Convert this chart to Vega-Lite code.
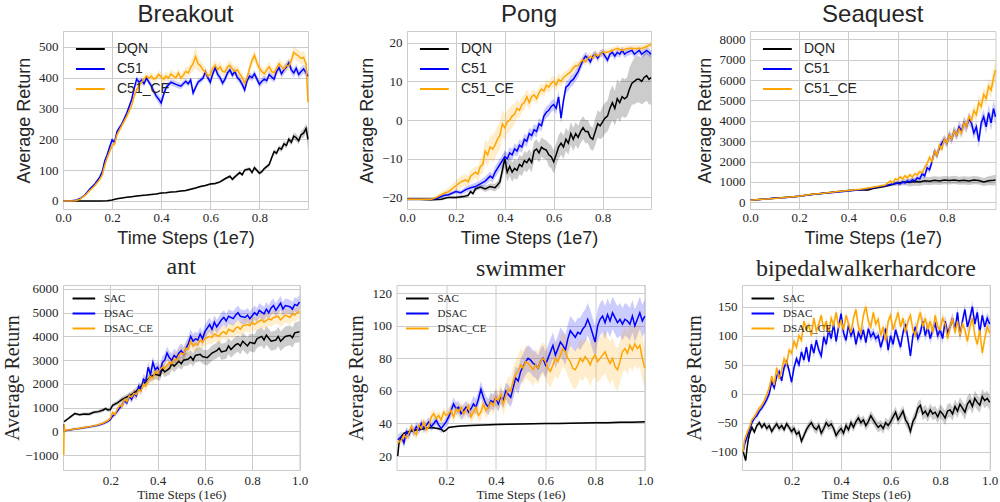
{
"$schema":"https://vega.github.io/schema/vega-lite/v6.json",
"background":"white",
"padding":{"left":1,"top":2,"right":0,"bottom":0},
"config":{
"view":{"stroke":"#cccccc","strokeWidth":1},
"axis":{"grid":true,"gridColor":"#cccccc","gridWidth":1,"domain":false,"ticks":false,"tickSize":0,"labelFont":"Liberation Serif","labelFontSize":13,"labelColor":"#262626","titleColor":"#262626","titleFont":"Liberation Serif","titleFontWeight":"normal","labelFlush":false,"labelOverlap":false},
"title":{"fontSize":24,"fontWeight":"normal","color":"#262626","offset":0},
"legend":{"orient":"top-left","padding":0,"symbolStrokeWidth":2,"labelColor":"#262626"}
},
"datasets":{
"brk":[
{"s":"a","x":0,"y":0,"e":0.5},{"s":"a","x":5,"y":0,"e":0.5},{"s":"a","x":10,"y":0,"e":0.5},{"s":"a","x":15,"y":0,"e":0.5},{"s":"a","x":18,"y":1,"e":1},{"s":"a","x":20,"y":3,"e":1},{"s":"a","x":22,"y":7,"e":1},{"s":"a","x":24,"y":10,"e":1},{"s":"a","x":26,"y":12,"e":1.5},{"s":"a","x":28,"y":14,"e":1.5},{"s":"a","x":30,"y":16,"e":2},{"s":"a","x":32,"y":18,"e":2},{"s":"a","x":34,"y":19,"e":2},{"s":"a","x":36,"y":21,"e":2},{"s":"a","x":38,"y":23,"e":2},{"s":"a","x":40,"y":26,"e":2},{"s":"a","x":42,"y":27,"e":2},{"s":"a","x":44,"y":29,"e":2},{"s":"a","x":46,"y":30,"e":2},{"s":"a","x":48,"y":32,"e":2},{"s":"a","x":50,"y":34,"e":3},{"s":"a","x":52,"y":38,"e":3},{"s":"a","x":54,"y":42,"e":3},{"s":"a","x":56,"y":47,"e":3},{"s":"a","x":58,"y":50,"e":3},{"s":"a","x":60,"y":55,"e":3},{"s":"a","x":62,"y":57,"e":4},{"s":"a","x":64,"y":62,"e":4},{"s":"a","x":66,"y":72,"e":4},{"s":"a","x":68,"y":80,"e":5},{"s":"a","x":69,"y":70,"e":5},{"s":"a","x":70,"y":78,"e":5},{"s":"a","x":72,"y":92,"e":5},{"s":"a","x":73,"y":85,"e":5},{"s":"a","x":74,"y":100,"e":5},{"s":"a","x":76,"y":104,"e":6},{"s":"a","x":77,"y":92,"e":6},{"s":"a","x":78,"y":108,"e":6},{"s":"a","x":80,"y":90,"e":6},{"s":"a","x":81,"y":95,"e":6},{"s":"a","x":82,"y":105,"e":6},{"s":"a","x":84,"y":118,"e":7},{"s":"a","x":85,"y":140,"e":8},{"s":"a","x":86,"y":160,"e":8},{"s":"a","x":87,"y":155,"e":8},{"s":"a","x":88,"y":172,"e":9},{"s":"a","x":89,"y":168,"e":9},{"s":"a","x":90,"y":185,"e":10},{"s":"a","x":91,"y":180,"e":10},{"s":"a","x":92,"y":200,"e":10},{"s":"a","x":93,"y":190,"e":10},{"s":"a","x":94,"y":210,"e":12},{"s":"a","x":95,"y":205,"e":12},{"s":"a","x":96,"y":195,"e":12},{"s":"a","x":97,"y":215,"e":12},{"s":"a","x":98,"y":220,"e":15},{"s":"a","x":99,"y":235,"e":15},{"s":"a","x":99.8,"y":200,"e":35},
{"s":"b","x":0,"y":0,"e":0},{"s":"b","x":3,"y":0,"e":0},{"s":"b","x":5,"y":2,"e":1},{"s":"b","x":7,"y":8,"e":2},{"s":"b","x":9,"y":20,"e":3},{"s":"b","x":11,"y":40,"e":4},{"s":"b","x":13,"y":55,"e":4},{"s":"b","x":15,"y":78,"e":5},{"s":"b","x":16,"y":95,"e":6},{"s":"b","x":17,"y":130,"e":6},{"s":"b","x":18,"y":150,"e":7},{"s":"b","x":19,"y":175,"e":7},{"s":"b","x":20,"y":198,"e":8},{"s":"b","x":21,"y":190,"e":8},{"s":"b","x":22,"y":225,"e":8},{"s":"b","x":24,"y":250,"e":8},{"s":"b","x":26,"y":285,"e":8},{"s":"b","x":28,"y":330,"e":9},{"s":"b","x":29,"y":365,"e":10},{"s":"b","x":30,"y":395,"e":10},{"s":"b","x":31,"y":385,"e":10},{"s":"b","x":32,"y":392,"e":10},{"s":"b","x":33,"y":380,"e":10},{"s":"b","x":34,"y":398,"e":10},{"s":"b","x":35,"y":385,"e":10},{"s":"b","x":36,"y":372,"e":12},{"s":"b","x":37,"y":355,"e":12},{"s":"b","x":38,"y":340,"e":12},{"s":"b","x":39,"y":330,"e":14},{"s":"b","x":40,"y":318,"e":15},{"s":"b","x":41,"y":345,"e":12},{"s":"b","x":42,"y":368,"e":10},{"s":"b","x":44,"y":385,"e":10},{"s":"b","x":46,"y":378,"e":10},{"s":"b","x":48,"y":372,"e":10},{"s":"b","x":50,"y":388,"e":10},{"s":"b","x":51,"y":380,"e":10},{"s":"b","x":52,"y":392,"e":10},{"s":"b","x":53,"y":350,"e":12},{"s":"b","x":54,"y":368,"e":12},{"s":"b","x":55,"y":385,"e":10},{"s":"b","x":57,"y":398,"e":10},{"s":"b","x":58,"y":418,"e":12},{"s":"b","x":59,"y":400,"e":12},{"s":"b","x":60,"y":385,"e":12},{"s":"b","x":61,"y":412,"e":12},{"s":"b","x":62,"y":432,"e":12},{"s":"b","x":63,"y":410,"e":12},{"s":"b","x":64,"y":400,"e":12},{"s":"b","x":65,"y":382,"e":12},{"s":"b","x":66,"y":395,"e":12},{"s":"b","x":67,"y":415,"e":12},{"s":"b","x":68,"y":425,"e":12},{"s":"b","x":69,"y":408,"e":12},{"s":"b","x":70,"y":420,"e":12},{"s":"b","x":71,"y":400,"e":12},{"s":"b","x":72,"y":392,"e":12},{"s":"b","x":73,"y":378,"e":12},{"s":"b","x":74,"y":360,"e":14},{"s":"b","x":75,"y":390,"e":12},{"s":"b","x":76,"y":405,"e":12},{"s":"b","x":77,"y":400,"e":12},{"s":"b","x":78,"y":412,"e":12},{"s":"b","x":79,"y":395,"e":12},{"s":"b","x":80,"y":378,"e":12},{"s":"b","x":81,"y":388,"e":12},{"s":"b","x":82,"y":395,"e":12},{"s":"b","x":83,"y":390,"e":12},{"s":"b","x":84,"y":410,"e":12},{"s":"b","x":85,"y":402,"e":12},{"s":"b","x":86,"y":395,"e":12},{"s":"b","x":87,"y":420,"e":14},{"s":"b","x":88,"y":432,"e":14},{"s":"b","x":89,"y":412,"e":14},{"s":"b","x":90,"y":425,"e":14},{"s":"b","x":91,"y":435,"e":14},{"s":"b","x":92,"y":448,"e":14},{"s":"b","x":93,"y":425,"e":14},{"s":"b","x":94,"y":415,"e":14},{"s":"b","x":95,"y":430,"e":14},{"s":"b","x":96,"y":410,"e":14},{"s":"b","x":97,"y":420,"e":14},{"s":"b","x":98,"y":428,"e":14},{"s":"b","x":99,"y":415,"e":14},{"s":"b","x":99.8,"y":405,"e":16},
{"s":"c","x":0,"y":0,"e":0},{"s":"c","x":3,"y":0,"e":0},{"s":"c","x":5,"y":1,"e":1},{"s":"c","x":7,"y":6,"e":2},{"s":"c","x":9,"y":18,"e":3},{"s":"c","x":11,"y":35,"e":4},{"s":"c","x":13,"y":50,"e":4},{"s":"c","x":15,"y":70,"e":5},{"s":"c","x":16,"y":85,"e":6},{"s":"c","x":17,"y":115,"e":6},{"s":"c","x":18,"y":140,"e":7},{"s":"c","x":19,"y":160,"e":7},{"s":"c","x":20,"y":180,"e":8},{"s":"c","x":21,"y":185,"e":8},{"s":"c","x":22,"y":215,"e":8},{"s":"c","x":24,"y":245,"e":8},{"s":"c","x":26,"y":275,"e":8},{"s":"c","x":28,"y":310,"e":9},{"s":"c","x":29,"y":340,"e":10},{"s":"c","x":30,"y":360,"e":10},{"s":"c","x":31,"y":375,"e":10},{"s":"c","x":32,"y":385,"e":12},{"s":"c","x":33,"y":395,"e":12},{"s":"c","x":34,"y":405,"e":12},{"s":"c","x":35,"y":398,"e":12},{"s":"c","x":36,"y":405,"e":12},{"s":"c","x":37,"y":395,"e":12},{"s":"c","x":38,"y":400,"e":12},{"s":"c","x":39,"y":410,"e":12},{"s":"c","x":40,"y":402,"e":14},{"s":"c","x":41,"y":395,"e":14},{"s":"c","x":42,"y":405,"e":14},{"s":"c","x":43,"y":398,"e":14},{"s":"c","x":44,"y":412,"e":14},{"s":"c","x":45,"y":405,"e":14},{"s":"c","x":46,"y":400,"e":14},{"s":"c","x":47,"y":415,"e":14},{"s":"c","x":48,"y":398,"e":14},{"s":"c","x":49,"y":408,"e":14},{"s":"c","x":50,"y":420,"e":16},{"s":"c","x":51,"y":415,"e":18},{"s":"c","x":52,"y":432,"e":20},{"s":"c","x":53,"y":445,"e":25},{"s":"c","x":54,"y":468,"e":35},{"s":"c","x":55,"y":445,"e":25},{"s":"c","x":56,"y":438,"e":20},{"s":"c","x":57,"y":425,"e":18},{"s":"c","x":58,"y":418,"e":16},{"s":"c","x":59,"y":405,"e":16},{"s":"c","x":60,"y":410,"e":16},{"s":"c","x":61,"y":430,"e":16},{"s":"c","x":62,"y":440,"e":16},{"s":"c","x":63,"y":425,"e":16},{"s":"c","x":64,"y":435,"e":16},{"s":"c","x":65,"y":420,"e":16},{"s":"c","x":66,"y":418,"e":16},{"s":"c","x":67,"y":435,"e":16},{"s":"c","x":68,"y":440,"e":16},{"s":"c","x":69,"y":428,"e":16},{"s":"c","x":70,"y":420,"e":16},{"s":"c","x":71,"y":425,"e":16},{"s":"c","x":72,"y":412,"e":16},{"s":"c","x":73,"y":400,"e":16},{"s":"c","x":74,"y":382,"e":16},{"s":"c","x":75,"y":400,"e":16},{"s":"c","x":76,"y":430,"e":16},{"s":"c","x":77,"y":455,"e":18},{"s":"c","x":78,"y":472,"e":18},{"s":"c","x":79,"y":448,"e":18},{"s":"c","x":80,"y":430,"e":16},{"s":"c","x":81,"y":420,"e":16},{"s":"c","x":82,"y":412,"e":16},{"s":"c","x":83,"y":425,"e":16},{"s":"c","x":84,"y":435,"e":16},{"s":"c","x":85,"y":420,"e":16},{"s":"c","x":86,"y":415,"e":16},{"s":"c","x":87,"y":430,"e":16},{"s":"c","x":88,"y":445,"e":16},{"s":"c","x":89,"y":435,"e":16},{"s":"c","x":90,"y":428,"e":16},{"s":"c","x":91,"y":440,"e":16},{"s":"c","x":92,"y":438,"e":18},{"s":"c","x":93,"y":455,"e":18},{"s":"c","x":94,"y":482,"e":20},{"s":"c","x":95,"y":475,"e":20},{"s":"c","x":96,"y":470,"e":20},{"s":"c","x":97,"y":462,"e":20},{"s":"c","x":98,"y":465,"e":22},{"s":"c","x":99,"y":445,"e":25},{"s":"c","x":99.8,"y":320,"e":25}
],
"png":[
{"s":"a","x":0,"y":-20.5,"e":0.3},{"s":"a","x":5,"y":-20.5,"e":0.3},{"s":"a","x":10,"y":-20.6,"e":0.3},{"s":"a","x":14,"y":-20.5,"e":0.3},{"s":"a","x":17,"y":-20,"e":0.3},{"s":"a","x":20,"y":-20,"e":0.4},{"s":"a","x":23,"y":-19.8,"e":0.4},{"s":"a","x":25,"y":-19.5,"e":0.5},{"s":"a","x":26,"y":-18.5,"e":0.5},{"s":"a","x":27,"y":-19,"e":0.5},{"s":"a","x":28,"y":-17.8,"e":0.6},{"s":"a","x":30,"y":-17.3,"e":0.6},{"s":"a","x":32,"y":-17.8,"e":0.8},{"s":"a","x":34,"y":-17.2,"e":0.8},{"s":"a","x":36,"y":-17.5,"e":1},{"s":"a","x":37,"y":-16.8,"e":1},{"s":"a","x":38,"y":-16,"e":1.5},{"s":"a","x":39,"y":-13,"e":2},{"s":"a","x":40,"y":-10,"e":2.5},{"s":"a","x":41,"y":-13.5,"e":2.5},{"s":"a","x":42,"y":-12,"e":2.5},{"s":"a","x":43,"y":-13.5,"e":2.5},{"s":"a","x":44,"y":-12.5,"e":2.5},{"s":"a","x":45,"y":-13,"e":2.5},{"s":"a","x":46,"y":-11.5,"e":2.5},{"s":"a","x":47,"y":-12,"e":2.5},{"s":"a","x":48,"y":-10.5,"e":2.5},{"s":"a","x":49,"y":-11,"e":2.5},{"s":"a","x":50,"y":-10,"e":2.5},{"s":"a","x":51,"y":-11,"e":2.5},{"s":"a","x":52,"y":-8,"e":2.5},{"s":"a","x":53,"y":-7.5,"e":2.5},{"s":"a","x":54,"y":-8.5,"e":2.5},{"s":"a","x":55,"y":-7,"e":2.5},{"s":"a","x":56,"y":-7.5,"e":2.5},{"s":"a","x":57,"y":-7.8,"e":2.5},{"s":"a","x":58,"y":-9,"e":3},{"s":"a","x":59,"y":-9.5,"e":3},{"s":"a","x":60,"y":-10.8,"e":3},{"s":"a","x":61,"y":-9,"e":3},{"s":"a","x":62,"y":-7,"e":3},{"s":"a","x":63,"y":-6,"e":3},{"s":"a","x":64,"y":-7,"e":3},{"s":"a","x":65,"y":-5,"e":3},{"s":"a","x":66,"y":-6,"e":3},{"s":"a","x":67,"y":-3.5,"e":3},{"s":"a","x":68,"y":-5,"e":3},{"s":"a","x":69,"y":-3.5,"e":3},{"s":"a","x":70,"y":-4.5,"e":3},{"s":"a","x":71,"y":-3,"e":3},{"s":"a","x":72,"y":-2,"e":3},{"s":"a","x":73,"y":-3,"e":3},{"s":"a","x":74,"y":-3,"e":3},{"s":"a","x":75,"y":-4.5,"e":3},{"s":"a","x":76,"y":-5,"e":3},{"s":"a","x":77,"y":-3,"e":3.5},{"s":"a","x":78,"y":-1,"e":3.5},{"s":"a","x":79,"y":-1.5,"e":3.5},{"s":"a","x":80,"y":-0.5,"e":4},{"s":"a","x":81,"y":0.5,"e":4},{"s":"a","x":82,"y":1,"e":4},{"s":"a","x":83,"y":3,"e":4.5},{"s":"a","x":84,"y":4.5,"e":4.5},{"s":"a","x":85,"y":3,"e":4.5},{"s":"a","x":86,"y":5.5,"e":5},{"s":"a","x":87,"y":4.5,"e":5},{"s":"a","x":88,"y":6,"e":5},{"s":"a","x":89,"y":5.5,"e":5},{"s":"a","x":90,"y":6,"e":5},{"s":"a","x":91,"y":8,"e":5.5},{"s":"a","x":92,"y":9.5,"e":5.5},{"s":"a","x":93,"y":10,"e":6},{"s":"a","x":94,"y":10.5,"e":6},{"s":"a","x":95,"y":10.5,"e":6},{"s":"a","x":96,"y":10,"e":6},{"s":"a","x":97,"y":11,"e":6.5},{"s":"a","x":98,"y":11.5,"e":6.5},{"s":"a","x":99,"y":10.5,"e":6.5},{"s":"a","x":99.8,"y":11,"e":7},
{"s":"b","x":0,"y":-20.5,"e":0.3},{"s":"b","x":5,"y":-20.5,"e":0.3},{"s":"b","x":10,"y":-20.5,"e":0.3},{"s":"b","x":12,"y":-20.3,"e":0.3},{"s":"b","x":15,"y":-19.5,"e":0.5},{"s":"b","x":17,"y":-19.3,"e":0.5},{"s":"b","x":20,"y":-18.5,"e":0.6},{"s":"b","x":22,"y":-18.8,"e":0.6},{"s":"b","x":24,"y":-18,"e":0.8},{"s":"b","x":26,"y":-17.5,"e":0.8},{"s":"b","x":28,"y":-17.2,"e":1},{"s":"b","x":30,"y":-16.5,"e":1},{"s":"b","x":32,"y":-15.8,"e":1.2},{"s":"b","x":34,"y":-14.5,"e":1.2},{"s":"b","x":35,"y":-15,"e":1.2},{"s":"b","x":36,"y":-13.5,"e":1.5},{"s":"b","x":37,"y":-12.5,"e":1.5},{"s":"b","x":38,"y":-11.5,"e":1.5},{"s":"b","x":39,"y":-10.5,"e":1.5},{"s":"b","x":40,"y":-9.5,"e":1.5},{"s":"b","x":41,"y":-10,"e":1.5},{"s":"b","x":42,"y":-8.5,"e":1.5},{"s":"b","x":43,"y":-9,"e":1.5},{"s":"b","x":44,"y":-7.5,"e":1.5},{"s":"b","x":45,"y":-8,"e":1.5},{"s":"b","x":46,"y":-6.5,"e":1.5},{"s":"b","x":47,"y":-7,"e":1.5},{"s":"b","x":48,"y":-5,"e":1.5},{"s":"b","x":49,"y":-5.5,"e":1.5},{"s":"b","x":50,"y":-3.5,"e":1.5},{"s":"b","x":51,"y":-4,"e":1.5},{"s":"b","x":52,"y":-2.5,"e":1.5},{"s":"b","x":53,"y":-3,"e":1.5},{"s":"b","x":54,"y":-1,"e":1.5},{"s":"b","x":55,"y":-1.5,"e":1.5},{"s":"b","x":56,"y":1,"e":1.5},{"s":"b","x":57,"y":2,"e":1.5},{"s":"b","x":58,"y":2.5,"e":1.5},{"s":"b","x":59,"y":3.5,"e":1.5},{"s":"b","x":60,"y":4,"e":1.5},{"s":"b","x":61,"y":3,"e":1.5},{"s":"b","x":62,"y":6,"e":1.5},{"s":"b","x":63,"y":0.5,"e":1.5},{"s":"b","x":64,"y":5,"e":1.5},{"s":"b","x":65,"y":8.5,"e":1.5},{"s":"b","x":66,"y":9,"e":1.5},{"s":"b","x":67,"y":10,"e":1.5},{"s":"b","x":68,"y":10.5,"e":1.5},{"s":"b","x":69,"y":11.5,"e":1.5},{"s":"b","x":70,"y":12.5,"e":1.5},{"s":"b","x":71,"y":14,"e":1.2},{"s":"b","x":72,"y":15.5,"e":1.2},{"s":"b","x":73,"y":16.5,"e":1.2},{"s":"b","x":74,"y":16,"e":1},{"s":"b","x":75,"y":15,"e":1},{"s":"b","x":76,"y":16.5,"e":1},{"s":"b","x":77,"y":17,"e":1},{"s":"b","x":78,"y":16,"e":1},{"s":"b","x":79,"y":17,"e":1},{"s":"b","x":80,"y":17.5,"e":1},{"s":"b","x":81,"y":16.5,"e":1},{"s":"b","x":82,"y":15.5,"e":1},{"s":"b","x":83,"y":17,"e":1},{"s":"b","x":84,"y":17.5,"e":1},{"s":"b","x":85,"y":16.5,"e":1},{"s":"b","x":86,"y":17.5,"e":1},{"s":"b","x":87,"y":17,"e":1},{"s":"b","x":88,"y":18,"e":1},{"s":"b","x":89,"y":17,"e":1},{"s":"b","x":90,"y":17.5,"e":1},{"s":"b","x":92,"y":18,"e":1},{"s":"b","x":93,"y":17,"e":1},{"s":"b","x":94,"y":17.5,"e":1},{"s":"b","x":95,"y":18,"e":1},{"s":"b","x":96,"y":17,"e":1},{"s":"b","x":97,"y":17.5,"e":1},{"s":"b","x":98,"y":18,"e":1},{"s":"b","x":99,"y":17.5,"e":1},{"s":"b","x":99.8,"y":17,"e":1},
{"s":"c","x":0,"y":-20.5,"e":0.3},{"s":"c","x":5,"y":-20.5,"e":0.3},{"s":"c","x":10,"y":-20.5,"e":0.3},{"s":"c","x":12,"y":-20,"e":0.4},{"s":"c","x":15,"y":-19,"e":0.8},{"s":"c","x":17,"y":-18.5,"e":1},{"s":"c","x":20,"y":-17,"e":1.5},{"s":"c","x":22,"y":-16,"e":1.5},{"s":"c","x":24,"y":-15.5,"e":1.5},{"s":"c","x":25,"y":-16,"e":1.5},{"s":"c","x":26,"y":-14.5,"e":1.5},{"s":"c","x":28,"y":-13.5,"e":1.5},{"s":"c","x":29,"y":-14,"e":2},{"s":"c","x":30,"y":-12,"e":2},{"s":"c","x":31,"y":-11.5,"e":2.5},{"s":"c","x":32,"y":-8,"e":3},{"s":"c","x":33,"y":-9,"e":3},{"s":"c","x":34,"y":-7,"e":3},{"s":"c","x":35,"y":-7.5,"e":3.5},{"s":"c","x":36,"y":-6.5,"e":3.5},{"s":"c","x":37,"y":-5,"e":3.5},{"s":"c","x":38,"y":-4,"e":3.5},{"s":"c","x":39,"y":-1,"e":3.5},{"s":"c","x":40,"y":-2,"e":3.5},{"s":"c","x":41,"y":-0.5,"e":3},{"s":"c","x":42,"y":0,"e":3},{"s":"c","x":43,"y":1,"e":3},{"s":"c","x":44,"y":1.5,"e":2.5},{"s":"c","x":45,"y":3,"e":2.5},{"s":"c","x":46,"y":2.5,"e":2},{"s":"c","x":47,"y":4,"e":2},{"s":"c","x":48,"y":4.5,"e":2},{"s":"c","x":49,"y":6,"e":2},{"s":"c","x":50,"y":4.5,"e":2},{"s":"c","x":51,"y":6,"e":1.5},{"s":"c","x":52,"y":6.5,"e":1.5},{"s":"c","x":53,"y":5.5,"e":1.5},{"s":"c","x":54,"y":7,"e":1.5},{"s":"c","x":55,"y":8,"e":1.5},{"s":"c","x":56,"y":7.5,"e":1.5},{"s":"c","x":57,"y":9,"e":1.5},{"s":"c","x":58,"y":8.5,"e":1.5},{"s":"c","x":59,"y":9.5,"e":1.5},{"s":"c","x":60,"y":10,"e":1.5},{"s":"c","x":61,"y":9,"e":1.5},{"s":"c","x":62,"y":10.5,"e":1.5},{"s":"c","x":63,"y":10,"e":1.5},{"s":"c","x":64,"y":11,"e":1.5},{"s":"c","x":65,"y":11.5,"e":1.2},{"s":"c","x":66,"y":12,"e":1.2},{"s":"c","x":67,"y":12.5,"e":1.2},{"s":"c","x":68,"y":13.5,"e":1.2},{"s":"c","x":69,"y":14,"e":1.2},{"s":"c","x":70,"y":14,"e":1},{"s":"c","x":71,"y":15,"e":1},{"s":"c","x":72,"y":15.5,"e":1},{"s":"c","x":73,"y":15,"e":1},{"s":"c","x":74,"y":16,"e":1},{"s":"c","x":75,"y":16.5,"e":1},{"s":"c","x":76,"y":16,"e":1},{"s":"c","x":77,"y":17,"e":1},{"s":"c","x":78,"y":16.5,"e":1},{"s":"c","x":79,"y":17,"e":0.8},{"s":"c","x":80,"y":17.5,"e":0.8},{"s":"c","x":82,"y":17.5,"e":0.8},{"s":"c","x":84,"y":18,"e":0.8},{"s":"c","x":86,"y":18.5,"e":0.8},{"s":"c","x":88,"y":18,"e":0.8},{"s":"c","x":90,"y":18.5,"e":0.8},{"s":"c","x":92,"y":18.5,"e":0.8},{"s":"c","x":94,"y":18.5,"e":0.8},{"s":"c","x":96,"y":18.5,"e":0.8},{"s":"c","x":98,"y":19,"e":0.8},{"s":"c","x":99.8,"y":19.5,"e":0.8}
],
"sq":[
{"s":"a","x":0,"y":100,"e":30},{"s":"a","x":5,"y":150,"e":30},{"s":"a","x":10,"y":200,"e":30},{"s":"a","x":15,"y":250,"e":30},{"s":"a","x":20,"y":300,"e":30},{"s":"a","x":25,"y":380,"e":30},{"s":"a","x":30,"y":450,"e":30},{"s":"a","x":35,"y":520,"e":30},{"s":"a","x":40,"y":580,"e":30},{"s":"a","x":45,"y":620,"e":30},{"s":"a","x":48,"y":600,"e":30},{"s":"a","x":50,"y":680,"e":30},{"s":"a","x":53,"y":740,"e":40},{"s":"a","x":55,"y":790,"e":50},{"s":"a","x":57,"y":850,"e":70},{"s":"a","x":59,"y":920,"e":100},{"s":"a","x":61,"y":960,"e":130},{"s":"a","x":63,"y":1000,"e":160},{"s":"a","x":65,"y":980,"e":200},{"s":"a","x":67,"y":1020,"e":200},{"s":"a","x":69,"y":1000,"e":200},{"s":"a","x":71,"y":1060,"e":200},{"s":"a","x":73,"y":1040,"e":200},{"s":"a","x":75,"y":1080,"e":200},{"s":"a","x":77,"y":1050,"e":200},{"s":"a","x":79,"y":1090,"e":200},{"s":"a","x":81,"y":1070,"e":200},{"s":"a","x":83,"y":1100,"e":200},{"s":"a","x":85,"y":1060,"e":200},{"s":"a","x":87,"y":1080,"e":200},{"s":"a","x":89,"y":1050,"e":200},{"s":"a","x":91,"y":1090,"e":200},{"s":"a","x":93,"y":1070,"e":200},{"s":"a","x":95,"y":1000,"e":200},{"s":"a","x":97,"y":1060,"e":220},{"s":"a","x":99,"y":1080,"e":250},{"s":"a","x":99.8,"y":1100,"e":250},
{"s":"b","x":0,"y":100,"e":30},{"s":"b","x":5,"y":150,"e":30},{"s":"b","x":10,"y":200,"e":30},{"s":"b","x":15,"y":240,"e":30},{"s":"b","x":20,"y":300,"e":30},{"s":"b","x":25,"y":380,"e":30},{"s":"b","x":30,"y":440,"e":30},{"s":"b","x":35,"y":500,"e":30},{"s":"b","x":40,"y":560,"e":40},{"s":"b","x":45,"y":620,"e":40},{"s":"b","x":50,"y":720,"e":50},{"s":"b","x":55,"y":820,"e":60},{"s":"b","x":58,"y":900,"e":80},{"s":"b","x":60,"y":950,"e":100},{"s":"b","x":61,"y":900,"e":100},{"s":"b","x":62,"y":1000,"e":100},{"s":"b","x":63,"y":950,"e":100},{"s":"b","x":64,"y":1050,"e":100},{"s":"b","x":65,"y":1000,"e":120},{"s":"b","x":66,"y":1100,"e":120},{"s":"b","x":67,"y":1050,"e":120},{"s":"b","x":68,"y":1200,"e":150},{"s":"b","x":69,"y":1150,"e":150},{"s":"b","x":70,"y":1400,"e":150},{"s":"b","x":71,"y":1300,"e":150},{"s":"b","x":72,"y":1700,"e":180},{"s":"b","x":73,"y":1600,"e":180},{"s":"b","x":74,"y":2000,"e":200},{"s":"b","x":75,"y":2500,"e":200},{"s":"b","x":76,"y":2300,"e":200},{"s":"b","x":77,"y":2700,"e":200},{"s":"b","x":78,"y":2900,"e":220},{"s":"b","x":79,"y":3100,"e":220},{"s":"b","x":80,"y":2900,"e":220},{"s":"b","x":81,"y":3300,"e":250},{"s":"b","x":82,"y":3100,"e":250},{"s":"b","x":83,"y":3500,"e":250},{"s":"b","x":84,"y":3300,"e":250},{"s":"b","x":85,"y":3700,"e":300},{"s":"b","x":86,"y":3500,"e":300},{"s":"b","x":87,"y":3900,"e":300},{"s":"b","x":88,"y":3700,"e":300},{"s":"b","x":89,"y":4100,"e":300},{"s":"b","x":90,"y":3900,"e":300},{"s":"b","x":91,"y":3400,"e":300},{"s":"b","x":92,"y":3700,"e":300},{"s":"b","x":93,"y":3000,"e":350},{"s":"b","x":94,"y":3900,"e":350},{"s":"b","x":95,"y":4200,"e":350},{"s":"b","x":96,"y":3700,"e":350},{"s":"b","x":97,"y":4400,"e":400},{"s":"b","x":98,"y":3900,"e":400},{"s":"b","x":99,"y":4600,"e":400},{"s":"b","x":99.8,"y":4200,"e":400},
{"s":"c","x":0,"y":100,"e":30},{"s":"c","x":5,"y":150,"e":30},{"s":"c","x":10,"y":190,"e":30},{"s":"c","x":15,"y":250,"e":30},{"s":"c","x":20,"y":300,"e":30},{"s":"c","x":25,"y":400,"e":30},{"s":"c","x":30,"y":450,"e":30},{"s":"c","x":35,"y":520,"e":30},{"s":"c","x":40,"y":580,"e":40},{"s":"c","x":45,"y":640,"e":40},{"s":"c","x":50,"y":740,"e":50},{"s":"c","x":55,"y":850,"e":60},{"s":"c","x":57,"y":1050,"e":80},{"s":"c","x":58,"y":950,"e":80},{"s":"c","x":59,"y":1150,"e":100},{"s":"c","x":60,"y":1100,"e":100},{"s":"c","x":61,"y":1250,"e":100},{"s":"c","x":62,"y":1150,"e":100},{"s":"c","x":63,"y":1300,"e":100},{"s":"c","x":64,"y":1200,"e":100},{"s":"c","x":65,"y":1350,"e":120},{"s":"c","x":66,"y":1250,"e":120},{"s":"c","x":67,"y":1400,"e":120},{"s":"c","x":68,"y":1350,"e":150},{"s":"c","x":69,"y":1500,"e":150},{"s":"c","x":70,"y":1450,"e":150},{"s":"c","x":71,"y":1700,"e":150},{"s":"c","x":72,"y":1900,"e":180},{"s":"c","x":73,"y":2200,"e":180},{"s":"c","x":74,"y":2000,"e":200},{"s":"c","x":75,"y":2500,"e":200},{"s":"c","x":76,"y":2300,"e":200},{"s":"c","x":77,"y":2800,"e":200},{"s":"c","x":78,"y":2600,"e":220},{"s":"c","x":79,"y":3100,"e":220},{"s":"c","x":80,"y":2900,"e":220},{"s":"c","x":81,"y":3300,"e":250},{"s":"c","x":82,"y":3100,"e":250},{"s":"c","x":83,"y":3500,"e":250},{"s":"c","x":84,"y":3300,"e":250},{"s":"c","x":85,"y":3600,"e":300},{"s":"c","x":86,"y":3400,"e":300},{"s":"c","x":87,"y":3900,"e":300},{"s":"c","x":88,"y":3700,"e":300},{"s":"c","x":89,"y":4200,"e":300},{"s":"c","x":90,"y":4000,"e":300},{"s":"c","x":91,"y":4500,"e":300},{"s":"c","x":92,"y":4300,"e":300},{"s":"c","x":93,"y":4900,"e":350},{"s":"c","x":94,"y":4700,"e":350},{"s":"c","x":95,"y":5300,"e":350},{"s":"c","x":96,"y":5100,"e":350},{"s":"c","x":97,"y":5700,"e":400},{"s":"c","x":98,"y":5500,"e":400},{"s":"c","x":99,"y":6100,"e":450},{"s":"c","x":99.8,"y":6500,"e":600}
],
"ant":[
{"s":"a","x":0.5,"y":400,"e":60},{"s":"a","x":1,"y":450,"e":60},{"s":"a","x":2,"y":520,"e":60},{"s":"a","x":3,"y":600,"e":60},{"s":"a","x":5,"y":750,"e":60},{"s":"a","x":7,"y":700,"e":60},{"s":"a","x":9,"y":730,"e":60},{"s":"a","x":11,"y":720,"e":70},{"s":"a","x":13,"y":800,"e":70},{"s":"a","x":15,"y":830,"e":80},{"s":"a","x":17,"y":900,"e":80},{"s":"a","x":18,"y":960,"e":80},{"s":"a","x":19,"y":900,"e":80},{"s":"a","x":20,"y":920,"e":90},{"s":"a","x":21,"y":1100,"e":100},{"s":"a","x":23,"y":1200,"e":100},{"s":"a","x":25,"y":1350,"e":120},{"s":"a","x":27,"y":1450,"e":120},{"s":"a","x":29,"y":1550,"e":130},{"s":"a","x":31,"y":1700,"e":150},{"s":"a","x":33,"y":1900,"e":150},{"s":"a","x":35,"y":2100,"e":180},{"s":"a","x":37,"y":2300,"e":200},{"s":"a","x":39,"y":2400,"e":200},{"s":"a","x":41,"y":2350,"e":220},{"s":"a","x":42,"y":2650,"e":220},{"s":"a","x":43,"y":2500,"e":220},{"s":"a","x":45,"y":2650,"e":250},{"s":"a","x":46,"y":2850,"e":250},{"s":"a","x":47,"y":2750,"e":250},{"s":"a","x":49,"y":2950,"e":250},{"s":"a","x":50,"y":2850,"e":260},{"s":"a","x":51,"y":3000,"e":260},{"s":"a","x":53,"y":3050,"e":280},{"s":"a","x":54,"y":3150,"e":280},{"s":"a","x":55,"y":3000,"e":280},{"s":"a","x":56,"y":3200,"e":300},{"s":"a","x":58,"y":3250,"e":300},{"s":"a","x":59,"y":3150,"e":300},{"s":"a","x":61,"y":3100,"e":320},{"s":"a","x":63,"y":3300,"e":320},{"s":"a","x":65,"y":3400,"e":330},{"s":"a","x":66,"y":3500,"e":330},{"s":"a","x":67,"y":3350,"e":340},{"s":"a","x":69,"y":3400,"e":340},{"s":"a","x":70,"y":3600,"e":350},{"s":"a","x":71,"y":3450,"e":350},{"s":"a","x":73,"y":3650,"e":350},{"s":"a","x":74,"y":3700,"e":350},{"s":"a","x":75,"y":3600,"e":360},{"s":"a","x":76,"y":3800,"e":360},{"s":"a","x":78,"y":3600,"e":370},{"s":"a","x":79,"y":3750,"e":370},{"s":"a","x":81,"y":3700,"e":380},{"s":"a","x":82,"y":3900,"e":380},{"s":"a","x":84,"y":4000,"e":390},{"s":"a","x":85,"y":3850,"e":390},{"s":"a","x":86,"y":4050,"e":400},{"s":"a","x":88,"y":3800,"e":400},{"s":"a","x":90,"y":3850,"e":400},{"s":"a","x":91,"y":4000,"e":410},{"s":"a","x":92,"y":3800,"e":410},{"s":"a","x":94,"y":4000,"e":420},{"s":"a","x":96,"y":4050,"e":420},{"s":"a","x":97,"y":3950,"e":430},{"s":"a","x":98,"y":4150,"e":430},{"s":"a","x":100,"y":4200,"e":450},
{"s":"b","x":0.3,"y":300,"e":100},{"s":"b","x":0.5,"y":0,"e":60},{"s":"b","x":1,"y":30,"e":50},{"s":"b","x":3,"y":60,"e":50},{"s":"b","x":5,"y":100,"e":50},{"s":"b","x":7,"y":120,"e":50},{"s":"b","x":9,"y":150,"e":50},{"s":"b","x":11,"y":180,"e":50},{"s":"b","x":13,"y":220,"e":60},{"s":"b","x":15,"y":260,"e":60},{"s":"b","x":17,"y":330,"e":70},{"s":"b","x":19,"y":420,"e":80},{"s":"b","x":20,"y":500,"e":90},{"s":"b","x":21,"y":650,"e":100},{"s":"b","x":22,"y":720,"e":100},{"s":"b","x":23,"y":850,"e":120},{"s":"b","x":24,"y":1000,"e":120},{"s":"b","x":25,"y":1100,"e":130},{"s":"b","x":26,"y":1300,"e":140},{"s":"b","x":27,"y":1200,"e":150},{"s":"b","x":28,"y":1500,"e":160},{"s":"b","x":29,"y":1350,"e":170},{"s":"b","x":30,"y":1600,"e":180},{"s":"b","x":31,"y":1500,"e":190},{"s":"b","x":32,"y":1900,"e":200},{"s":"b","x":33,"y":1750,"e":200},{"s":"b","x":34,"y":2200,"e":220},{"s":"b","x":35,"y":2100,"e":230},{"s":"b","x":36,"y":2700,"e":240},{"s":"b","x":37,"y":2400,"e":240},{"s":"b","x":38,"y":2900,"e":250},{"s":"b","x":39,"y":2600,"e":250},{"s":"b","x":40,"y":2700,"e":260},{"s":"b","x":41,"y":2500,"e":260},{"s":"b","x":42,"y":2900,"e":270},{"s":"b","x":43,"y":3000,"e":270},{"s":"b","x":44,"y":3300,"e":280},{"s":"b","x":45,"y":3100,"e":280},{"s":"b","x":46,"y":3000,"e":280},{"s":"b","x":47,"y":3200,"e":290},{"s":"b","x":48,"y":3100,"e":290},{"s":"b","x":49,"y":3300,"e":290},{"s":"b","x":50,"y":3400,"e":300},{"s":"b","x":51,"y":3250,"e":300},{"s":"b","x":52,"y":3500,"e":300},{"s":"b","x":53,"y":3700,"e":300},{"s":"b","x":54,"y":4000,"e":300},{"s":"b","x":55,"y":3800,"e":300},{"s":"b","x":56,"y":3900,"e":300},{"s":"b","x":57,"y":3850,"e":300},{"s":"b","x":58,"y":4100,"e":300},{"s":"b","x":59,"y":3900,"e":300},{"s":"b","x":60,"y":4200,"e":300},{"s":"b","x":62,"y":4500,"e":300},{"s":"b","x":63,"y":4300,"e":300},{"s":"b","x":64,"y":4600,"e":300},{"s":"b","x":65,"y":4400,"e":300},{"s":"b","x":67,"y":4700,"e":300},{"s":"b","x":68,"y":4800,"e":300},{"s":"b","x":69,"y":4650,"e":300},{"s":"b","x":70,"y":4850,"e":300},{"s":"b","x":72,"y":4750,"e":300},{"s":"b","x":73,"y":4900,"e":300},{"s":"b","x":74,"y":5000,"e":300},{"s":"b","x":75,"y":4850,"e":300},{"s":"b","x":77,"y":4800,"e":300},{"s":"b","x":78,"y":4900,"e":300},{"s":"b","x":79,"y":4750,"e":300},{"s":"b","x":81,"y":5000,"e":300},{"s":"b","x":82,"y":4900,"e":300},{"s":"b","x":83,"y":5100,"e":300},{"s":"b","x":85,"y":4950,"e":300},{"s":"b","x":86,"y":5150,"e":300},{"s":"b","x":87,"y":5000,"e":300},{"s":"b","x":88,"y":5200,"e":300},{"s":"b","x":89,"y":5300,"e":300},{"s":"b","x":90,"y":5100,"e":300},{"s":"b","x":92,"y":5400,"e":300},{"s":"b","x":93,"y":5150,"e":300},{"s":"b","x":94,"y":5300,"e":300},{"s":"b","x":96,"y":5250,"e":300},{"s":"b","x":97,"y":5150,"e":300},{"s":"b","x":98,"y":5350,"e":300},{"s":"b","x":99,"y":5300,"e":300},{"s":"b","x":100,"y":5450,"e":300},
{"s":"c","x":0.3,"y":-1000,"e":50},{"s":"c","x":0.5,"y":300,"e":50},{"s":"c","x":0.8,"y":0,"e":50},{"s":"c","x":1,"y":50,"e":50},{"s":"c","x":3,"y":70,"e":50},{"s":"c","x":5,"y":100,"e":50},{"s":"c","x":7,"y":130,"e":50},{"s":"c","x":9,"y":160,"e":50},{"s":"c","x":11,"y":190,"e":50},{"s":"c","x":13,"y":230,"e":60},{"s":"c","x":15,"y":280,"e":60},{"s":"c","x":17,"y":350,"e":70},{"s":"c","x":19,"y":450,"e":80},{"s":"c","x":20,"y":550,"e":90},{"s":"c","x":21,"y":800,"e":100},{"s":"c","x":22,"y":700,"e":100},{"s":"c","x":23,"y":950,"e":120},{"s":"c","x":24,"y":1100,"e":120},{"s":"c","x":25,"y":1050,"e":130},{"s":"c","x":26,"y":1350,"e":140},{"s":"c","x":27,"y":1250,"e":150},{"s":"c","x":28,"y":1500,"e":160},{"s":"c","x":29,"y":1450,"e":170},{"s":"c","x":30,"y":1600,"e":180},{"s":"c","x":31,"y":1550,"e":190},{"s":"c","x":32,"y":1750,"e":200},{"s":"c","x":33,"y":1700,"e":200},{"s":"c","x":34,"y":2000,"e":220},{"s":"c","x":35,"y":1900,"e":230},{"s":"c","x":36,"y":2150,"e":240},{"s":"c","x":37,"y":2300,"e":240},{"s":"c","x":38,"y":2250,"e":250},{"s":"c","x":39,"y":2500,"e":250},{"s":"c","x":40,"y":2450,"e":260},{"s":"c","x":41,"y":2600,"e":260},{"s":"c","x":42,"y":2700,"e":270},{"s":"c","x":43,"y":2650,"e":270},{"s":"c","x":44,"y":2800,"e":280},{"s":"c","x":45,"y":2900,"e":280},{"s":"c","x":46,"y":2850,"e":280},{"s":"c","x":47,"y":3050,"e":290},{"s":"c","x":48,"y":3000,"e":290},{"s":"c","x":49,"y":3200,"e":290},{"s":"c","x":50,"y":3300,"e":300},{"s":"c","x":51,"y":3250,"e":300},{"s":"c","x":52,"y":3500,"e":300},{"s":"c","x":53,"y":3450,"e":300},{"s":"c","x":54,"y":3800,"e":300},{"s":"c","x":55,"y":3600,"e":300},{"s":"c","x":56,"y":3700,"e":300},{"s":"c","x":57,"y":3650,"e":300},{"s":"c","x":58,"y":3850,"e":300},{"s":"c","x":59,"y":3750,"e":300},{"s":"c","x":60,"y":3900,"e":300},{"s":"c","x":62,"y":4000,"e":300},{"s":"c","x":63,"y":3950,"e":300},{"s":"c","x":64,"y":4100,"e":300},{"s":"c","x":66,"y":4000,"e":300},{"s":"c","x":67,"y":4150,"e":300},{"s":"c","x":68,"y":4200,"e":300},{"s":"c","x":69,"y":4100,"e":300},{"s":"c","x":70,"y":4300,"e":300},{"s":"c","x":72,"y":4200,"e":300},{"s":"c","x":73,"y":4350,"e":300},{"s":"c","x":74,"y":4400,"e":300},{"s":"c","x":75,"y":4300,"e":300},{"s":"c","x":76,"y":4450,"e":300},{"s":"c","x":78,"y":4500,"e":300},{"s":"c","x":79,"y":4450,"e":300},{"s":"c","x":80,"y":4600,"e":300},{"s":"c","x":81,"y":4500,"e":300},{"s":"c","x":83,"y":4650,"e":300},{"s":"c","x":84,"y":4700,"e":300},{"s":"c","x":85,"y":4600,"e":300},{"s":"c","x":87,"y":4750,"e":300},{"s":"c","x":88,"y":4700,"e":300},{"s":"c","x":89,"y":4800,"e":300},{"s":"c","x":91,"y":4850,"e":300},{"s":"c","x":92,"y":4700,"e":300},{"s":"c","x":94,"y":4900,"e":300},{"s":"c","x":96,"y":4800,"e":300},{"s":"c","x":97,"y":4950,"e":300},{"s":"c","x":98,"y":4900,"e":300},{"s":"c","x":99,"y":5000,"e":300},{"s":"c","x":100,"y":5050,"e":300}
],
"sw":[
{"s":"a","x":0.5,"y":20,"e":1},{"s":"a","x":1,"y":28,"e":1},{"s":"a","x":1.5,"y":30,"e":1},{"s":"a","x":2,"y":32,"e":0.8},{"s":"a","x":3,"y":34,"e":0.8},{"s":"a","x":5,"y":35,"e":0.6},{"s":"a","x":8,"y":36,"e":0.6},{"s":"a","x":10,"y":36.5,"e":0.6},{"s":"a","x":12,"y":37,"e":0.6},{"s":"a","x":14,"y":37.5,"e":0.6},{"s":"a","x":16,"y":37,"e":0.6},{"s":"a","x":18,"y":36.5,"e":0.6},{"s":"a","x":19,"y":35,"e":0.6},{"s":"a","x":20,"y":36,"e":0.6},{"s":"a","x":21,"y":37.5,"e":0.5},{"s":"a","x":23,"y":38,"e":0.5},{"s":"a","x":26,"y":38.5,"e":0.5},{"s":"a","x":30,"y":38.8,"e":0.5},{"s":"a","x":35,"y":39,"e":0.5},{"s":"a","x":40,"y":39.3,"e":0.5},{"s":"a","x":45,"y":39.5,"e":0.5},{"s":"a","x":50,"y":39.6,"e":0.5},{"s":"a","x":55,"y":39.8,"e":0.5},{"s":"a","x":60,"y":40,"e":0.5},{"s":"a","x":65,"y":40,"e":0.5},{"s":"a","x":70,"y":40.2,"e":0.5},{"s":"a","x":75,"y":40.3,"e":0.5},{"s":"a","x":80,"y":40.5,"e":0.5},{"s":"a","x":85,"y":40.5,"e":0.5},{"s":"a","x":90,"y":40.7,"e":0.5},{"s":"a","x":95,"y":40.8,"e":0.5},{"s":"a","x":100,"y":41,"e":0.5},
{"s":"b","x":0.5,"y":30,"e":3},{"s":"b","x":2,"y":32,"e":3},{"s":"b","x":3,"y":28,"e":3},{"s":"b","x":4,"y":35,"e":3},{"s":"b","x":5,"y":33,"e":3},{"s":"b","x":6,"y":37,"e":3},{"s":"b","x":7,"y":35,"e":3},{"s":"b","x":8,"y":38,"e":3},{"s":"b","x":9,"y":36,"e":3},{"s":"b","x":10,"y":40,"e":3},{"s":"b","x":11,"y":37,"e":3},{"s":"b","x":12,"y":39,"e":3},{"s":"b","x":13,"y":41,"e":3},{"s":"b","x":14,"y":38,"e":3},{"s":"b","x":15,"y":40,"e":3},{"s":"b","x":16,"y":42,"e":3},{"s":"b","x":17,"y":39,"e":3},{"s":"b","x":18,"y":37,"e":3},{"s":"b","x":19,"y":39,"e":3},{"s":"b","x":20,"y":41,"e":3},{"s":"b","x":21,"y":44,"e":4},{"s":"b","x":22,"y":48,"e":4},{"s":"b","x":23,"y":52,"e":4},{"s":"b","x":24,"y":49,"e":4},{"s":"b","x":25,"y":50,"e":4},{"s":"b","x":26,"y":46,"e":4},{"s":"b","x":27,"y":48,"e":4},{"s":"b","x":28,"y":50,"e":4},{"s":"b","x":29,"y":47,"e":4},{"s":"b","x":30,"y":49,"e":4},{"s":"b","x":31,"y":52,"e":5},{"s":"b","x":32,"y":50,"e":5},{"s":"b","x":33,"y":55,"e":5},{"s":"b","x":34,"y":61,"e":5},{"s":"b","x":35,"y":56,"e":5},{"s":"b","x":36,"y":52,"e":5},{"s":"b","x":37,"y":50,"e":5},{"s":"b","x":38,"y":54,"e":5},{"s":"b","x":39,"y":53,"e":5},{"s":"b","x":40,"y":56,"e":5},{"s":"b","x":41,"y":52,"e":5},{"s":"b","x":42,"y":57,"e":5},{"s":"b","x":43,"y":54,"e":5},{"s":"b","x":44,"y":60,"e":5},{"s":"b","x":45,"y":58,"e":6},{"s":"b","x":46,"y":56,"e":6},{"s":"b","x":47,"y":62,"e":7},{"s":"b","x":48,"y":68,"e":7},{"s":"b","x":49,"y":66,"e":8},{"s":"b","x":50,"y":72,"e":8},{"s":"b","x":51,"y":75,"e":8},{"s":"b","x":52,"y":78,"e":8},{"s":"b","x":53,"y":80,"e":8},{"s":"b","x":54,"y":79,"e":8},{"s":"b","x":55,"y":77,"e":8},{"s":"b","x":56,"y":76,"e":8},{"s":"b","x":57,"y":74,"e":8},{"s":"b","x":58,"y":78,"e":8},{"s":"b","x":59,"y":80,"e":8},{"s":"b","x":60,"y":76,"e":8},{"s":"b","x":61,"y":80,"e":8},{"s":"b","x":62,"y":84,"e":8},{"s":"b","x":63,"y":88,"e":8},{"s":"b","x":64,"y":82,"e":8},{"s":"b","x":65,"y":86,"e":8},{"s":"b","x":66,"y":90,"e":9},{"s":"b","x":67,"y":88,"e":9},{"s":"b","x":68,"y":85,"e":9},{"s":"b","x":69,"y":92,"e":9},{"s":"b","x":70,"y":97,"e":9},{"s":"b","x":71,"y":95,"e":9},{"s":"b","x":72,"y":93,"e":9},{"s":"b","x":73,"y":96,"e":9},{"s":"b","x":74,"y":95,"e":10},{"s":"b","x":75,"y":98,"e":10},{"s":"b","x":76,"y":100,"e":10},{"s":"b","x":77,"y":104,"e":10},{"s":"b","x":78,"y":100,"e":10},{"s":"b","x":79,"y":95,"e":10},{"s":"b","x":80,"y":90,"e":10},{"s":"b","x":81,"y":100,"e":10},{"s":"b","x":82,"y":104,"e":10},{"s":"b","x":83,"y":106,"e":10},{"s":"b","x":84,"y":102,"e":10},{"s":"b","x":85,"y":107,"e":10},{"s":"b","x":86,"y":103,"e":10},{"s":"b","x":87,"y":108,"e":10},{"s":"b","x":88,"y":105,"e":10},{"s":"b","x":89,"y":102,"e":10},{"s":"b","x":90,"y":104,"e":10},{"s":"b","x":91,"y":101,"e":10},{"s":"b","x":92,"y":104,"e":10},{"s":"b","x":93,"y":103,"e":10},{"s":"b","x":94,"y":101,"e":10},{"s":"b","x":95,"y":106,"e":10},{"s":"b","x":96,"y":100,"e":10},{"s":"b","x":97,"y":104,"e":10},{"s":"b","x":98,"y":108,"e":10},{"s":"b","x":99,"y":103,"e":10},{"s":"b","x":100,"y":106,"e":10},
{"s":"c","x":0.5,"y":28,"e":3},{"s":"c","x":2,"y":30,"e":3},{"s":"c","x":3,"y":33,"e":3},{"s":"c","x":4,"y":31,"e":3},{"s":"c","x":5,"y":34,"e":3},{"s":"c","x":6,"y":38,"e":3},{"s":"c","x":7,"y":35,"e":3},{"s":"c","x":8,"y":33,"e":3},{"s":"c","x":9,"y":39,"e":3},{"s":"c","x":10,"y":37,"e":3},{"s":"c","x":11,"y":41,"e":3},{"s":"c","x":12,"y":36,"e":3},{"s":"c","x":13,"y":38,"e":3},{"s":"c","x":14,"y":44,"e":3},{"s":"c","x":15,"y":46,"e":3},{"s":"c","x":16,"y":43,"e":3},{"s":"c","x":17,"y":45,"e":3},{"s":"c","x":18,"y":42,"e":3},{"s":"c","x":19,"y":47,"e":3},{"s":"c","x":20,"y":45,"e":3},{"s":"c","x":21,"y":46,"e":4},{"s":"c","x":22,"y":48,"e":4},{"s":"c","x":23,"y":44,"e":4},{"s":"c","x":24,"y":49,"e":4},{"s":"c","x":25,"y":47,"e":4},{"s":"c","x":26,"y":50,"e":4},{"s":"c","x":27,"y":46,"e":4},{"s":"c","x":28,"y":48,"e":4},{"s":"c","x":29,"y":51,"e":4},{"s":"c","x":30,"y":44,"e":4},{"s":"c","x":31,"y":47,"e":4},{"s":"c","x":32,"y":50,"e":4},{"s":"c","x":33,"y":45,"e":4},{"s":"c","x":34,"y":47,"e":5},{"s":"c","x":35,"y":52,"e":5},{"s":"c","x":36,"y":48,"e":5},{"s":"c","x":37,"y":50,"e":5},{"s":"c","x":38,"y":53,"e":5},{"s":"c","x":39,"y":51,"e":6},{"s":"c","x":40,"y":56,"e":6},{"s":"c","x":41,"y":54,"e":6},{"s":"c","x":42,"y":58,"e":7},{"s":"c","x":43,"y":52,"e":7},{"s":"c","x":44,"y":57,"e":7},{"s":"c","x":45,"y":61,"e":8},{"s":"c","x":46,"y":60,"e":8},{"s":"c","x":47,"y":66,"e":9},{"s":"c","x":48,"y":70,"e":9},{"s":"c","x":49,"y":72,"e":10},{"s":"c","x":50,"y":76,"e":10},{"s":"c","x":51,"y":74,"e":10},{"s":"c","x":52,"y":78,"e":10},{"s":"c","x":53,"y":77,"e":10},{"s":"c","x":54,"y":75,"e":10},{"s":"c","x":55,"y":73,"e":10},{"s":"c","x":56,"y":76,"e":10},{"s":"c","x":57,"y":74,"e":10},{"s":"c","x":58,"y":78,"e":10},{"s":"c","x":59,"y":80,"e":10},{"s":"c","x":60,"y":78,"e":10},{"s":"c","x":61,"y":74,"e":10},{"s":"c","x":62,"y":72,"e":10},{"s":"c","x":63,"y":76,"e":10},{"s":"c","x":64,"y":80,"e":11},{"s":"c","x":65,"y":78,"e":11},{"s":"c","x":66,"y":82,"e":11},{"s":"c","x":67,"y":86,"e":11},{"s":"c","x":68,"y":84,"e":11},{"s":"c","x":69,"y":80,"e":11},{"s":"c","x":70,"y":78,"e":12},{"s":"c","x":71,"y":74,"e":12},{"s":"c","x":72,"y":73,"e":12},{"s":"c","x":73,"y":76,"e":12},{"s":"c","x":74,"y":80,"e":12},{"s":"c","x":75,"y":78,"e":12},{"s":"c","x":76,"y":81,"e":12},{"s":"c","x":77,"y":79,"e":12},{"s":"c","x":78,"y":76,"e":13},{"s":"c","x":79,"y":80,"e":13},{"s":"c","x":80,"y":82,"e":13},{"s":"c","x":81,"y":78,"e":13},{"s":"c","x":82,"y":80,"e":13},{"s":"c","x":83,"y":82,"e":13},{"s":"c","x":84,"y":84,"e":13},{"s":"c","x":85,"y":80,"e":13},{"s":"c","x":86,"y":77,"e":13},{"s":"c","x":87,"y":80,"e":13},{"s":"c","x":88,"y":75,"e":13},{"s":"c","x":89,"y":73,"e":13},{"s":"c","x":90,"y":78,"e":13},{"s":"c","x":91,"y":84,"e":13},{"s":"c","x":92,"y":86,"e":13},{"s":"c","x":93,"y":83,"e":13},{"s":"c","x":94,"y":88,"e":13},{"s":"c","x":95,"y":85,"e":13},{"s":"c","x":96,"y":89,"e":13},{"s":"c","x":97,"y":86,"e":13},{"s":"c","x":98,"y":88,"e":13},{"s":"c","x":99,"y":80,"e":13},{"s":"c","x":100,"y":74,"e":13}
],
"bw":[
{"s":"a","x":0.5,"y":-100,"e":5},{"s":"a","x":1,"y":-108,"e":5},{"s":"a","x":1.5,"y":-115,"e":5},{"s":"a","x":2,"y":-95,"e":5},{"s":"a","x":2.5,"y":-80,"e":5},{"s":"a","x":3,"y":-70,"e":5},{"s":"a","x":4,"y":-58,"e":5},{"s":"a","x":5,"y":-66,"e":5},{"s":"a","x":6,"y":-55,"e":5},{"s":"a","x":7,"y":-50,"e":5},{"s":"a","x":8,"y":-58,"e":5},{"s":"a","x":9,"y":-52,"e":5},{"s":"a","x":10,"y":-60,"e":6},{"s":"a","x":11,"y":-55,"e":6},{"s":"a","x":12,"y":-65,"e":6},{"s":"a","x":13,"y":-58,"e":6},{"s":"a","x":14,"y":-52,"e":6},{"s":"a","x":15,"y":-60,"e":6},{"s":"a","x":16,"y":-55,"e":6},{"s":"a","x":17,"y":-62,"e":6},{"s":"a","x":18,"y":-52,"e":6},{"s":"a","x":19,"y":-58,"e":6},{"s":"a","x":20,"y":-65,"e":7},{"s":"a","x":21,"y":-60,"e":7},{"s":"a","x":22,"y":-70,"e":7},{"s":"a","x":23,"y":-66,"e":7},{"s":"a","x":24,"y":-82,"e":7},{"s":"a","x":25,"y":-72,"e":7},{"s":"a","x":26,"y":-62,"e":7},{"s":"a","x":27,"y":-55,"e":7},{"s":"a","x":28,"y":-50,"e":7},{"s":"a","x":29,"y":-58,"e":7},{"s":"a","x":30,"y":-62,"e":8},{"s":"a","x":31,"y":-55,"e":8},{"s":"a","x":32,"y":-68,"e":8},{"s":"a","x":33,"y":-60,"e":8},{"s":"a","x":34,"y":-50,"e":8},{"s":"a","x":35,"y":-56,"e":8},{"s":"a","x":36,"y":-52,"e":8},{"s":"a","x":37,"y":-60,"e":8},{"s":"a","x":38,"y":-72,"e":8},{"s":"a","x":39,"y":-65,"e":8},{"s":"a","x":40,"y":-60,"e":8},{"s":"a","x":41,"y":-68,"e":8},{"s":"a","x":42,"y":-55,"e":8},{"s":"a","x":43,"y":-62,"e":8},{"s":"a","x":44,"y":-50,"e":8},{"s":"a","x":45,"y":-58,"e":8},{"s":"a","x":46,"y":-48,"e":8},{"s":"a","x":47,"y":-42,"e":8},{"s":"a","x":48,"y":-50,"e":8},{"s":"a","x":49,"y":-45,"e":8},{"s":"a","x":50,"y":-55,"e":9},{"s":"a","x":51,"y":-48,"e":9},{"s":"a","x":52,"y":-38,"e":9},{"s":"a","x":53,"y":-45,"e":9},{"s":"a","x":54,"y":-52,"e":9},{"s":"a","x":55,"y":-58,"e":9},{"s":"a","x":56,"y":-54,"e":9},{"s":"a","x":57,"y":-60,"e":9},{"s":"a","x":58,"y":-50,"e":9},{"s":"a","x":59,"y":-55,"e":9},{"s":"a","x":60,"y":-48,"e":10},{"s":"a","x":61,"y":-40,"e":10},{"s":"a","x":62,"y":-32,"e":10},{"s":"a","x":63,"y":-45,"e":10},{"s":"a","x":64,"y":-38,"e":10},{"s":"a","x":65,"y":-30,"e":10},{"s":"a","x":66,"y":-45,"e":10},{"s":"a","x":67,"y":-52,"e":10},{"s":"a","x":68,"y":-65,"e":10},{"s":"a","x":69,"y":-48,"e":10},{"s":"a","x":70,"y":-40,"e":11},{"s":"a","x":71,"y":-25,"e":11},{"s":"a","x":72,"y":-20,"e":11},{"s":"a","x":73,"y":-35,"e":11},{"s":"a","x":74,"y":-30,"e":11},{"s":"a","x":75,"y":-38,"e":11},{"s":"a","x":76,"y":-28,"e":11},{"s":"a","x":77,"y":-35,"e":11},{"s":"a","x":78,"y":-32,"e":11},{"s":"a","x":79,"y":-40,"e":11},{"s":"a","x":80,"y":-30,"e":12},{"s":"a","x":81,"y":-35,"e":12},{"s":"a","x":82,"y":-42,"e":12},{"s":"a","x":83,"y":-30,"e":12},{"s":"a","x":84,"y":-28,"e":12},{"s":"a","x":85,"y":-35,"e":12},{"s":"a","x":86,"y":-22,"e":12},{"s":"a","x":87,"y":-30,"e":12},{"s":"a","x":88,"y":-18,"e":12},{"s":"a","x":89,"y":-25,"e":12},{"s":"a","x":90,"y":-32,"e":13},{"s":"a","x":91,"y":-18,"e":13},{"s":"a","x":92,"y":-12,"e":13},{"s":"a","x":93,"y":-22,"e":13},{"s":"a","x":94,"y":-8,"e":13},{"s":"a","x":95,"y":-15,"e":13},{"s":"a","x":96,"y":-20,"e":13},{"s":"a","x":97,"y":-5,"e":13},{"s":"a","x":98,"y":-12,"e":13},{"s":"a","x":99,"y":-8,"e":13},{"s":"a","x":100,"y":-15,"e":13},
{"s":"b","x":0.5,"y":-100,"e":5},{"s":"b","x":1,"y":-88,"e":5},{"s":"b","x":2,"y":-75,"e":5},{"s":"b","x":3,"y":-62,"e":5},{"s":"b","x":4,"y":-50,"e":5},{"s":"b","x":5,"y":-42,"e":5},{"s":"b","x":6,"y":-38,"e":5},{"s":"b","x":7,"y":-30,"e":5},{"s":"b","x":8,"y":-25,"e":5},{"s":"b","x":9,"y":-18,"e":5},{"s":"b","x":10,"y":-10,"e":6},{"s":"b","x":11,"y":0,"e":6},{"s":"b","x":12,"y":20,"e":6},{"s":"b","x":13,"y":10,"e":6},{"s":"b","x":14,"y":30,"e":6},{"s":"b","x":15,"y":38,"e":6},{"s":"b","x":16,"y":22,"e":6},{"s":"b","x":17,"y":45,"e":7},{"s":"b","x":18,"y":55,"e":7},{"s":"b","x":19,"y":40,"e":7},{"s":"b","x":20,"y":20,"e":7},{"s":"b","x":21,"y":45,"e":7},{"s":"b","x":22,"y":60,"e":7},{"s":"b","x":23,"y":50,"e":7},{"s":"b","x":24,"y":72,"e":8},{"s":"b","x":25,"y":58,"e":8},{"s":"b","x":26,"y":80,"e":8},{"s":"b","x":27,"y":55,"e":8},{"s":"b","x":28,"y":85,"e":8},{"s":"b","x":29,"y":70,"e":8},{"s":"b","x":30,"y":92,"e":8},{"s":"b","x":31,"y":75,"e":8},{"s":"b","x":32,"y":65,"e":8},{"s":"b","x":33,"y":98,"e":8},{"s":"b","x":34,"y":85,"e":8},{"s":"b","x":35,"y":110,"e":9},{"s":"b","x":36,"y":95,"e":9},{"s":"b","x":37,"y":120,"e":9},{"s":"b","x":38,"y":90,"e":9},{"s":"b","x":39,"y":115,"e":9},{"s":"b","x":40,"y":138,"e":9},{"s":"b","x":41,"y":105,"e":9},{"s":"b","x":42,"y":92,"e":9},{"s":"b","x":43,"y":118,"e":9},{"s":"b","x":44,"y":100,"e":9},{"s":"b","x":45,"y":110,"e":9},{"s":"b","x":46,"y":85,"e":9},{"s":"b","x":47,"y":105,"e":9},{"s":"b","x":48,"y":95,"e":9},{"s":"b","x":49,"y":110,"e":9},{"s":"b","x":50,"y":88,"e":9},{"s":"b","x":51,"y":112,"e":9},{"s":"b","x":52,"y":98,"e":9},{"s":"b","x":53,"y":105,"e":9},{"s":"b","x":54,"y":95,"e":9},{"s":"b","x":55,"y":100,"e":9},{"s":"b","x":56,"y":80,"e":9},{"s":"b","x":57,"y":95,"e":9},{"s":"b","x":58,"y":112,"e":9},{"s":"b","x":59,"y":75,"e":9},{"s":"b","x":60,"y":100,"e":9},{"s":"b","x":61,"y":85,"e":9},{"s":"b","x":62,"y":110,"e":9},{"s":"b","x":63,"y":95,"e":9},{"s":"b","x":64,"y":80,"e":9},{"s":"b","x":65,"y":105,"e":9},{"s":"b","x":66,"y":120,"e":9},{"s":"b","x":67,"y":95,"e":9},{"s":"b","x":68,"y":65,"e":9},{"s":"b","x":69,"y":100,"e":9},{"s":"b","x":70,"y":115,"e":10},{"s":"b","x":71,"y":95,"e":10},{"s":"b","x":72,"y":105,"e":10},{"s":"b","x":73,"y":125,"e":10},{"s":"b","x":74,"y":100,"e":10},{"s":"b","x":75,"y":115,"e":10},{"s":"b","x":76,"y":95,"e":10},{"s":"b","x":77,"y":110,"e":10},{"s":"b","x":78,"y":120,"e":10},{"s":"b","x":79,"y":100,"e":10},{"s":"b","x":80,"y":110,"e":10},{"s":"b","x":81,"y":95,"e":10},{"s":"b","x":82,"y":125,"e":10},{"s":"b","x":83,"y":105,"e":10},{"s":"b","x":84,"y":115,"e":10},{"s":"b","x":85,"y":130,"e":10},{"s":"b","x":86,"y":110,"e":10},{"s":"b","x":87,"y":140,"e":10},{"s":"b","x":88,"y":100,"e":10},{"s":"b","x":89,"y":125,"e":10},{"s":"b","x":90,"y":145,"e":10},{"s":"b","x":91,"y":115,"e":10},{"s":"b","x":92,"y":130,"e":10},{"s":"b","x":93,"y":150,"e":10},{"s":"b","x":94,"y":120,"e":10},{"s":"b","x":95,"y":140,"e":10},{"s":"b","x":96,"y":105,"e":10},{"s":"b","x":97,"y":135,"e":10},{"s":"b","x":98,"y":115,"e":10},{"s":"b","x":99,"y":130,"e":10},{"s":"b","x":100,"y":120,"e":10},
{"s":"c","x":0.5,"y":-100,"e":5},{"s":"c","x":1,"y":-80,"e":5},{"s":"c","x":2,"y":-68,"e":5},{"s":"c","x":3,"y":-58,"e":5},{"s":"c","x":4,"y":-45,"e":5},{"s":"c","x":5,"y":-40,"e":5},{"s":"c","x":6,"y":-32,"e":5},{"s":"c","x":7,"y":-25,"e":5},{"s":"c","x":8,"y":-20,"e":5},{"s":"c","x":9,"y":-12,"e":5},{"s":"c","x":10,"y":-2,"e":6},{"s":"c","x":11,"y":10,"e":6},{"s":"c","x":12,"y":30,"e":6},{"s":"c","x":13,"y":15,"e":6},{"s":"c","x":14,"y":45,"e":6},{"s":"c","x":15,"y":25,"e":6},{"s":"c","x":16,"y":40,"e":6},{"s":"c","x":17,"y":60,"e":7},{"s":"c","x":18,"y":50,"e":7},{"s":"c","x":19,"y":75,"e":7},{"s":"c","x":20,"y":70,"e":7},{"s":"c","x":21,"y":90,"e":7},{"s":"c","x":22,"y":80,"e":7},{"s":"c","x":23,"y":100,"e":7},{"s":"c","x":24,"y":92,"e":8},{"s":"c","x":25,"y":125,"e":8},{"s":"c","x":26,"y":110,"e":8},{"s":"c","x":27,"y":118,"e":8},{"s":"c","x":28,"y":100,"e":8},{"s":"c","x":29,"y":130,"e":8},{"s":"c","x":30,"y":108,"e":8},{"s":"c","x":31,"y":120,"e":8},{"s":"c","x":32,"y":135,"e":8},{"s":"c","x":33,"y":110,"e":8},{"s":"c","x":34,"y":125,"e":8},{"s":"c","x":35,"y":105,"e":9},{"s":"c","x":36,"y":130,"e":9},{"s":"c","x":37,"y":118,"e":9},{"s":"c","x":38,"y":140,"e":9},{"s":"c","x":39,"y":115,"e":9},{"s":"c","x":40,"y":125,"e":9},{"s":"c","x":41,"y":110,"e":9},{"s":"c","x":42,"y":135,"e":9},{"s":"c","x":43,"y":120,"e":9},{"s":"c","x":44,"y":105,"e":9},{"s":"c","x":45,"y":130,"e":9},{"s":"c","x":46,"y":145,"e":9},{"s":"c","x":47,"y":115,"e":9},{"s":"c","x":48,"y":105,"e":9},{"s":"c","x":49,"y":135,"e":9},{"s":"c","x":50,"y":150,"e":9},{"s":"c","x":51,"y":125,"e":9},{"s":"c","x":52,"y":115,"e":9},{"s":"c","x":53,"y":140,"e":9},{"s":"c","x":54,"y":120,"e":9},{"s":"c","x":55,"y":128,"e":9},{"s":"c","x":56,"y":100,"e":9},{"s":"c","x":57,"y":115,"e":9},{"s":"c","x":58,"y":90,"e":9},{"s":"c","x":59,"y":125,"e":9},{"s":"c","x":60,"y":135,"e":9},{"s":"c","x":61,"y":110,"e":9},{"s":"c","x":62,"y":125,"e":9},{"s":"c","x":63,"y":140,"e":9},{"s":"c","x":64,"y":115,"e":9},{"s":"c","x":65,"y":130,"e":9},{"s":"c","x":66,"y":105,"e":9},{"s":"c","x":67,"y":125,"e":9},{"s":"c","x":68,"y":135,"e":9},{"s":"c","x":69,"y":110,"e":9},{"s":"c","x":70,"y":100,"e":10},{"s":"c","x":71,"y":125,"e":10},{"s":"c","x":72,"y":140,"e":10},{"s":"c","x":73,"y":115,"e":10},{"s":"c","x":74,"y":130,"e":10},{"s":"c","x":75,"y":110,"e":10},{"s":"c","x":76,"y":125,"e":10},{"s":"c","x":77,"y":105,"e":10},{"s":"c","x":78,"y":135,"e":10},{"s":"c","x":79,"y":115,"e":10},{"s":"c","x":80,"y":110,"e":10},{"s":"c","x":81,"y":130,"e":10},{"s":"c","x":82,"y":120,"e":10},{"s":"c","x":83,"y":95,"e":10},{"s":"c","x":84,"y":115,"e":10},{"s":"c","x":85,"y":130,"e":10},{"s":"c","x":86,"y":105,"e":10},{"s":"c","x":87,"y":125,"e":10},{"s":"c","x":88,"y":100,"e":10},{"s":"c","x":89,"y":120,"e":10},{"s":"c","x":90,"y":110,"e":10},{"s":"c","x":91,"y":90,"e":10},{"s":"c","x":92,"y":115,"e":10},{"s":"c","x":93,"y":130,"e":10},{"s":"c","x":94,"y":100,"e":10},{"s":"c","x":95,"y":85,"e":10},{"s":"c","x":96,"y":110,"e":10},{"s":"c","x":97,"y":70,"e":10},{"s":"c","x":98,"y":95,"e":10},{"s":"c","x":99,"y":115,"e":10},{"s":"c","x":100,"y":105,"e":10}
]
},
"vconcat":[
{"hconcat":[
{"title":{"text":"Breakout","font":"Liberation Sans"},"width":245,"height":178,"data":{"name":"brk"},
"encoding":{"x":{"field":"x","type":"quantitative","scale":{"domain":[0,99.8],"nice":false,"zero":false},"axis":{"values":[0,20,40,60,80],"labelExpr":"format(datum.value/100,'.1f')","title":"Time Steps (1e7)","titleFont":"Liberation Sans","titleFontSize":18,"labelPadding":2,"titlePadding":5}},
"y":{"field":"y","type":"quantitative","scale":{"domain":[-26,551],"nice":false,"zero":false},"axis":{"values":[0,100,200,300,400,500],"format":"d","title":"Average Return","titleFont":"Liberation Sans","titleFontSize":18,"labelPadding":5,"titlePadding":5}}},
"layer":[
{"transform":[{"filter":"datum.s=='a'"}],"mark":{"type":"errorband","color":"#000000","opacity":0.2},"encoding":{"yError":{"field":"e"}}},
{"transform":[{"filter":"datum.s=='b'"}],"mark":{"type":"errorband","color":"#0000ff","opacity":0.2},"encoding":{"yError":{"field":"e"}}},
{"transform":[{"filter":"datum.s=='c'"}],"mark":{"type":"errorband","color":"#ffa500","opacity":0.2},"encoding":{"yError":{"field":"e"}}},
{"mark":{"type":"line","strokeWidth":1.5},"encoding":{"color":{"field":"s","type":"nominal","scale":{"domain":["a","b","c"],"range":["#000000","#0000ff","#ffa500"]},"legend":{"title":null,"orient":"top-left","offset":10,"padding":0,"symbolType":"M-0.72,0H3.4","symbolSize":196,"symbolStrokeWidth":2,"labelFont":"Liberation Sans","labelFontSize":14,"labelOffset":28,"rowPadding":5,"labelExpr":"datum.label=='a'?'DQN':datum.label=='b'?'C51':'C51_CE'"}}}}
]},
{"title":{"text":"Pong","font":"Liberation Sans"},"width":244,"height":178,"data":{"name":"png"},
"encoding":{"x":{"field":"x","type":"quantitative","scale":{"domain":[0,99.8],"nice":false,"zero":false},"axis":{"values":[0,20,40,60,80],"labelExpr":"format(datum.value/100,'.1f')","title":"Time Steps (1e7)","titleFont":"Liberation Sans","titleFontSize":18,"labelPadding":2,"titlePadding":5}},
"y":{"field":"y","type":"quantitative","scale":{"domain":[-23,23],"nice":false,"zero":false},"axis":{"values":[-20,-10,0,10,20],"format":"d","title":"Average Return","titleFont":"Liberation Sans","titleFontSize":18,"labelPadding":5,"titlePadding":5}}},
"layer":[
{"transform":[{"filter":"datum.s=='a'"}],"mark":{"type":"errorband","color":"#000000","opacity":0.2},"encoding":{"yError":{"field":"e"}}},
{"transform":[{"filter":"datum.s=='b'"}],"mark":{"type":"errorband","color":"#0000ff","opacity":0.2},"encoding":{"yError":{"field":"e"}}},
{"transform":[{"filter":"datum.s=='c'"}],"mark":{"type":"errorband","color":"#ffa500","opacity":0.2},"encoding":{"yError":{"field":"e"}}},
{"mark":{"type":"line","strokeWidth":1.5},"encoding":{"color":{"field":"s","type":"nominal","scale":{"domain":["a","b","c"],"range":["#000000","#0000ff","#ffa500"]},"legend":{"title":null,"orient":"top-left","offset":10,"padding":0,"symbolType":"M-0.72,0H3.4","symbolSize":196,"symbolStrokeWidth":2,"labelFont":"Liberation Sans","labelFontSize":14,"labelOffset":28,"rowPadding":5,"labelExpr":"datum.label=='a'?'DQN':datum.label=='b'?'C51':'C51_CE'"}}}}
]},
{"title":{"text":"Seaquest","font":"Liberation Sans"},"width":245.5,"height":178,"data":{"name":"sq"},
"encoding":{"x":{"field":"x","type":"quantitative","scale":{"domain":[0,99.8],"nice":false,"zero":false},"axis":{"values":[0,20,40,60,80],"labelExpr":"format(datum.value/100,'.1f')","title":"Time Steps (1e7)","titleFont":"Liberation Sans","titleFontSize":18,"labelPadding":2,"titlePadding":5}},
"y":{"field":"y","type":"quantitative","scale":{"domain":[-327,8408],"nice":false,"zero":false},"axis":{"values":[0,1000,2000,3000,4000,5000,6000,7000,8000],"format":"d","title":"Average Return","titleFont":"Liberation Sans","titleFontSize":18,"labelPadding":5,"titlePadding":5}}},
"layer":[
{"transform":[{"filter":"datum.s=='a'"}],"mark":{"type":"errorband","color":"#000000","opacity":0.2},"encoding":{"yError":{"field":"e"}}},
{"transform":[{"filter":"datum.s=='b'"}],"mark":{"type":"errorband","color":"#0000ff","opacity":0.2},"encoding":{"yError":{"field":"e"}}},
{"transform":[{"filter":"datum.s=='c'"}],"mark":{"type":"errorband","color":"#ffa500","opacity":0.2},"encoding":{"yError":{"field":"e"}}},
{"mark":{"type":"line","strokeWidth":1.5},"encoding":{"color":{"field":"s","type":"nominal","scale":{"domain":["a","b","c"],"range":["#000000","#0000ff","#ffa500"]},"legend":{"title":null,"orient":"top-left","offset":10,"padding":0,"symbolType":"M-0.72,0H3.4","symbolSize":196,"symbolStrokeWidth":2,"labelFont":"Liberation Sans","labelFontSize":14,"labelOffset":28,"rowPadding":5,"labelExpr":"datum.label=='a'?'DQN':datum.label=='b'?'C51':'C51_CE'"}}}}
]}
],"spacing":99,"bounds":"flush","resolve":{"scale":{"color":"independent"},"legend":{"color":"independent"}}},
{"hconcat":[
{"title":{"text":"ant","font":"Liberation Serif"},"width":236.5,"height":185,"data":{"name":"ant"},
"encoding":{"x":{"field":"x","type":"quantitative","scale":{"domain":[0,100],"nice":false,"zero":false},"axis":{"values":[20,40,60,80,100],"labelExpr":"format(datum.value/100,'.1f')","title":"Time Steps (1e6)","titleFont":"Liberation Serif","titleFontSize":13,"labelPadding":4,"titlePadding":1}},
"y":{"field":"y","type":"quantitative","scale":{"domain":[-1630,6168],"nice":false,"zero":false},"axis":{"values":[-1000,0,1000,2000,3000,4000,5000,6000],"format":"d","title":"Average Return","titleFont":"Liberation Serif","titleFontSize":20,"labelPadding":5,"titlePadding":2.5}}},
"layer":[
{"transform":[{"filter":"datum.s=='a'"}],"mark":{"type":"errorband","color":"#000000","opacity":0.2},"encoding":{"yError":{"field":"e"}}},
{"transform":[{"filter":"datum.s=='b'"}],"mark":{"type":"errorband","color":"#0000ff","opacity":0.2},"encoding":{"yError":{"field":"e"}}},
{"transform":[{"filter":"datum.s=='c'"}],"mark":{"type":"errorband","color":"#ffa500","opacity":0.2},"encoding":{"yError":{"field":"e"}}},
{"mark":{"type":"line","strokeWidth":1.5},"encoding":{"color":{"field":"s","type":"nominal","scale":{"domain":["a","b","c"],"range":["#000000","#0000ff","#ffa500"]},"legend":{"title":null,"orient":"top-left","offset":7,"padding":0,"symbolType":"M-0.72,0H3.4","symbolSize":121,"symbolStrokeWidth":2,"labelFont":"Liberation Serif","labelFontSize":11,"labelOffset":21,"rowPadding":3,"labelExpr":"datum.label=='a'?'SAC':datum.label=='b'?'DSAC':'DSAC_CE'"}}}}
]},
{"title":{"text":"swimmer","font":"Liberation Serif"},"width":248.3,"height":185,"data":{"name":"sw"},
"encoding":{"x":{"field":"x","type":"quantitative","scale":{"domain":[0,100],"nice":false,"zero":false},"axis":{"values":[20,40,60,80,100],"labelExpr":"format(datum.value/100,'.1f')","title":"Time Steps (1e6)","titleFont":"Liberation Serif","titleFontSize":13,"labelPadding":4,"titlePadding":1}},
"y":{"field":"y","type":"quantitative","scale":{"domain":[11.4,125.1],"nice":false,"zero":false},"axis":{"values":[20,40,60,80,100,120],"format":"d","title":"Average Return","titleFont":"Liberation Serif","titleFontSize":20,"labelPadding":5,"titlePadding":6}}},
"layer":[
{"transform":[{"filter":"datum.s=='a'"}],"mark":{"type":"errorband","color":"#000000","opacity":0.2},"encoding":{"yError":{"field":"e"}}},
{"transform":[{"filter":"datum.s=='b'"}],"mark":{"type":"errorband","color":"#0000ff","opacity":0.2},"encoding":{"yError":{"field":"e"}}},
{"transform":[{"filter":"datum.s=='c'"}],"mark":{"type":"errorband","color":"#ffa500","opacity":0.2},"encoding":{"yError":{"field":"e"}}},
{"mark":{"type":"line","strokeWidth":1.5},"encoding":{"color":{"field":"s","type":"nominal","scale":{"domain":["a","b","c"],"range":["#000000","#0000ff","#ffa500"]},"legend":{"title":null,"orient":"top-left","offset":7,"padding":0,"symbolType":"M-0.72,0H3.4","symbolSize":121,"symbolStrokeWidth":2,"labelFont":"Liberation Serif","labelFontSize":11,"labelOffset":21,"rowPadding":3,"labelExpr":"datum.label=='a'?'SAC':datum.label=='b'?'DSAC':'DSAC_CE'"}}}}
]},
{"title":{"text":"bipedalwalkerhardcore","font":"Liberation Serif"},"width":247.7,"height":185,"data":{"name":"bw"},
"encoding":{"x":{"field":"x","type":"quantitative","scale":{"domain":[0,100],"nice":false,"zero":false},"axis":{"values":[20,40,60,80,100],"labelExpr":"format(datum.value/100,'.1f')","title":"Time Steps (1e6)","titleFont":"Liberation Serif","titleFontSize":13,"labelPadding":4,"titlePadding":1}},
"y":{"field":"y","type":"quantitative","scale":{"domain":[-131.5,187.2],"nice":false,"zero":false},"axis":{"values":[-100,-50,0,50,100,150],"format":"d","title":"Average Return","titleFont":"Liberation Serif","titleFontSize":20,"labelPadding":5,"titlePadding":6}}},
"layer":[
{"transform":[{"filter":"datum.s=='a'"}],"mark":{"type":"errorband","color":"#000000","opacity":0.2},"encoding":{"yError":{"field":"e"}}},
{"transform":[{"filter":"datum.s=='b'"}],"mark":{"type":"errorband","color":"#0000ff","opacity":0.2},"encoding":{"yError":{"field":"e"}}},
{"transform":[{"filter":"datum.s=='c'"}],"mark":{"type":"errorband","color":"#ffa500","opacity":0.2},"encoding":{"yError":{"field":"e"}}},
{"mark":{"type":"line","strokeWidth":1.5},"encoding":{"color":{"field":"s","type":"nominal","scale":{"domain":["a","b","c"],"range":["#000000","#0000ff","#ffa500"]},"legend":{"title":null,"orient":"top-left","offset":7,"padding":0,"symbolType":"M-0.72,0H3.4","symbolSize":121,"symbolStrokeWidth":2,"labelFont":"Liberation Serif","labelFontSize":11,"labelOffset":21,"rowPadding":3,"labelExpr":"datum.label=='a'?'SAC':datum.label=='b'?'DSAC':'DSAC_CE'"}}}}
]}
],"spacing":96.5,"bounds":"flush","resolve":{"scale":{"color":"independent"},"legend":{"color":"independent"}}}
],
"spacing":6,
"resolve":{"scale":{"color":"independent"},"legend":{"color":"independent"}}
}
